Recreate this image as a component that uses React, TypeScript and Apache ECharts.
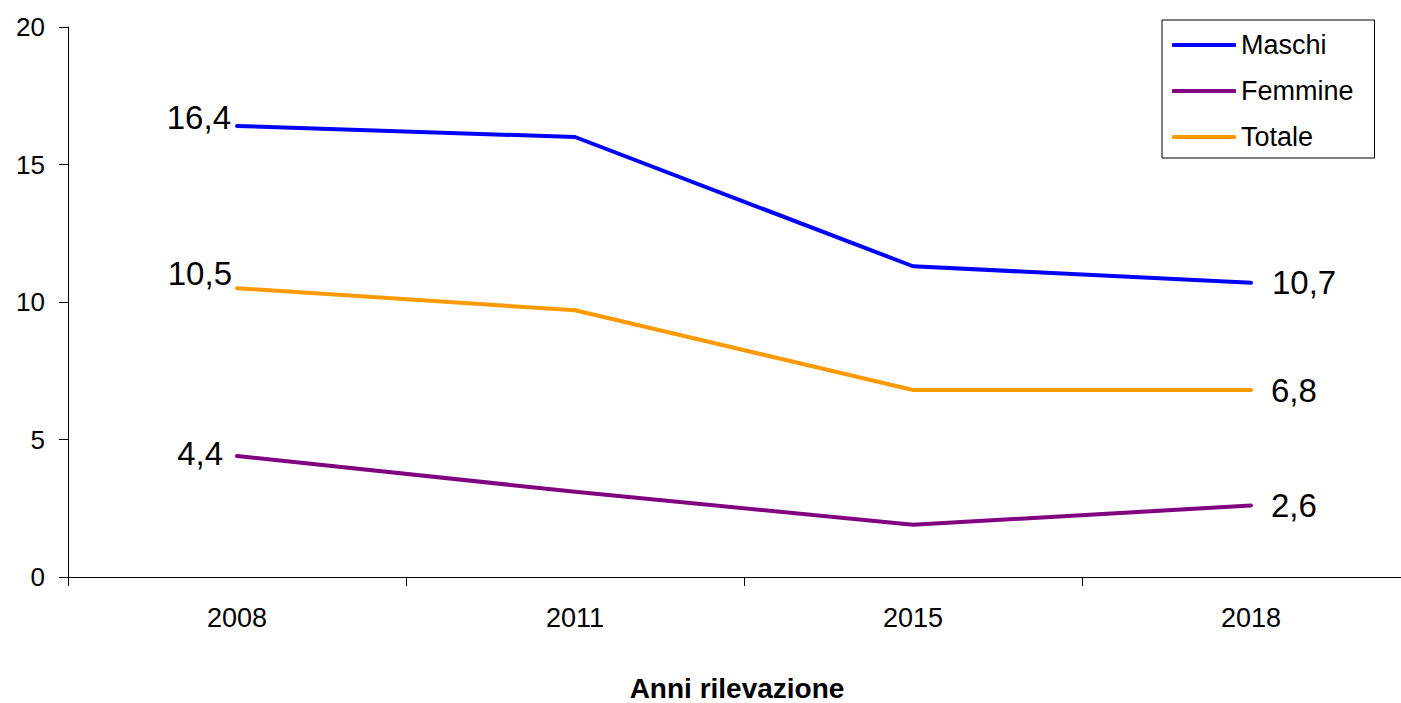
import React, { useEffect, useRef } from "react";
import * as echarts from "echarts";

const categories = ["2008", "2011", "2015", "2018"];
const maschi = [16.4, 16.0, 11.3, 10.7];
const femmine = [4.4, 3.1, 1.9, 2.6];
const totale = [10.5, 9.7, 6.8, 6.8];
const seriesNames = ["Maschi", "Femmine", "Totale"];
const yTicks = { min: 0, max: 20, interval: 5 };

const FONT = "'Liberation Sans', Arial, Helvetica, sans-serif";

// label placement per series: first and last point
const labelPlacement: Record<string, { first: { distance: number; dy: number }; last: { distance: number; dy: number } }> = {
  Maschi: { first: { distance: 6, dy: -9 }, last: { distance: 21, dy: 0 } },
  Femmine: { first: { distance: 14, dy: -3 }, last: { distance: 20, dy: 0 } },
  Totale: { first: { distance: 5, dy: -15 }, last: { distance: 20, dy: 0 } },
};

const fmt = (v: number) => v.toFixed(1).replace(".", ",");

function buildData(name: string, values: number[]) {
  const p = labelPlacement[name];
  return values.map((v, i) => {
    if (i === 0) {
      return {
        value: v,
        label: {
          show: true,
          position: "left",
          distance: p.first.distance,
          offset: [0, p.first.dy],
          formatter: () => fmt(v),
        },
      };
    }
    if (i === values.length - 1) {
      return {
        value: v,
        label: {
          show: true,
          position: "right",
          distance: p.last.distance,
          offset: [0, p.last.dy],
          formatter: () => fmt(v),
        },
      };
    }
    return { value: v, label: { show: false } };
  });
}

export default function App() {
  const ref = useRef<HTMLDivElement>(null);
  useEffect(() => {
    if (!ref.current) return;
    const chart = echarts.init(ref.current, null, { renderer: "svg" });
    const colors = ["#0000FF", "#800080", "#FF9900"];
    const values = [maschi, femmine, totale];
    chart.setOption({
      animation: false,
      backgroundColor: "#ffffff",
      textStyle: { fontFamily: FONT },
      grid: { left: 68, top: 27, right: 0, height: 550, containLabel: false },
      legend: {
        data: seriesNames,
        orient: "vertical",
        left: 1162,
        top: 20,
        padding: [10, 21, 6, 10],
        borderColor: "#000000",
        borderWidth: 1,
        icon: "roundRect",
        itemWidth: 64,
        itemHeight: 4,
        itemGap: 16,
        itemTextGap: 5,
        textStyle: { fontSize: 27, color: "#000000", fontFamily: FONT, lineHeight: 30 },
      },
      xAxis: {
        type: "category",
        data: categories,
        boundaryGap: true,
        axisLine: { show: true, lineStyle: { color: "#000000", width: 1 } },
        axisTick: { show: true, length: 9, lineStyle: { color: "#000000" } },
        axisLabel: { fontSize: 27, color: "#000000", margin: 27, fontFamily: FONT },
        splitLine: { show: false },
      },
      yAxis: {
        type: "value",
        min: yTicks.min,
        max: yTicks.max,
        interval: yTicks.interval,
        axisLine: { show: true, lineStyle: { color: "#000000", width: 1 } },
        axisTick: { show: true, length: 9, lineStyle: { color: "#000000" } },
        axisLabel: { fontSize: 26, color: "#000000", margin: 23, fontFamily: FONT },
        splitLine: { show: false },
      },
      graphic: [
        {
          type: "text",
          x: 737,
          y: 688,
          style: {
            text: "Anni rilevazione",
            fontSize: 28,
            fontWeight: "bold",
            fontFamily: FONT,
            fill: "#000000",
            textAlign: "center",
            textVerticalAlign: "middle",
          },
        },
      ],
      series: seriesNames.map((name, idx) => ({
        name,
        type: "line",
        data: buildData(name, values[idx]),
        symbol: "circle",
        symbolSize: 0,
        showSymbol: true,
        color: colors[idx],
        itemStyle: { color: colors[idx] },
        lineStyle: { color: colors[idx], width: 4, cap: "round", join: "round" },
        label: { fontSize: 33, color: "#000000", fontFamily: FONT },
        emphasis: { disabled: true },
      })),
    });
    return () => chart.dispose();
  }, []);
  return (
    <div
      style={{ position: "absolute", left: 0, top: 0, width: 1401, height: 703, overflow: "hidden", background: "#ffffff" }}
    >
      <div ref={ref} style={{ position: "absolute", left: 0, top: 0, width: 1420, height: 703 }} />
    </div>
  );
}
